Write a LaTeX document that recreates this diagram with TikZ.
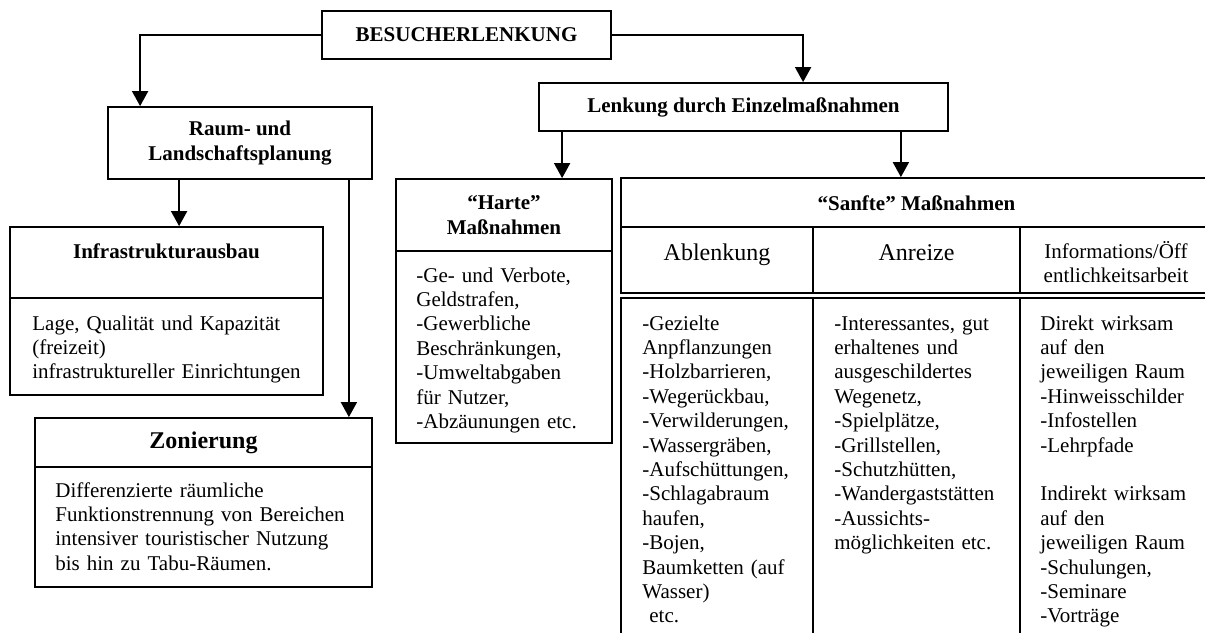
\documentclass[tikz,border=0pt]{standalone}
\usepackage{fontspec}
\setmainfont{Liberation Serif}
\usetikzlibrary{arrows.meta,fit}

\tikzset{
  cell/.style={draw, line width=0.9pt, inner sep=0pt},
  head/.style={font=\bfseries\fontsize{10.5}{12.2}\selectfont, align=center},
  bighead/.style={font=\bfseries\fontsize{12}{14}\selectfont},
  bigtxt/.style={font=\fontsize{12}{14}\selectfont, anchor=base},
  txt/.style={font=\fontsize{10.5}{12.2}\selectfont, align=left, anchor=base west, text width=150pt, inner sep=0pt},
  arr/.style={-{Triangle[length=7.5pt,width=8pt]}, line width=0.9pt}
}

\begin{document}
\begin{tikzpicture}[x=0.5pt, y=-0.5pt]
    \useasboundingbox (0, 0) rectangle (1205, 632);
    \clip (0, 0) rectangle (1205, 632);

    \node [cell, fit={(322, 11) (611, 59)}] (besucher) {};
    \node [head] at (466.5, 35) (besuchertxt) {BESUCHERLENKUNG};
    \node [cell, fit={(108, 107) (372, 179)}] (raum) {};
    \node [head] at (240, 143) (raumtxt) {Raum- und\\Landschaftsplanung};
    \node [cell, fit={(539, 83) (948, 131)}] (lenkung) {};
    \node [head] at (743.5, 107) (lenkungtxt) {Lenkung durch Einzelmaßnahmen};

    \node [cell, fit={(10, 227) (323, 298)}] (infratitle) {};
    \node [cell, fit={(10, 298) (323, 395)}] (infrabody) {};
    \node [head] at (166.5, 251) (infratxt) {Infrastrukturausbau};
    \node [txt] at (32, 330) (infralist) {Lage, Qualität und Kapazität\\(freizeit)\\infrastruktureller Einrichtungen};

    \node [cell, fit={(35, 418) (372, 467)}] (zontitle) {};
    \node [cell, fit={(35, 467) (372, 587)}] (zonbody) {};
    \node [bighead] at (203.5, 443) (zontxt) {Zonierung};
    \node [txt] at (55, 497) (zonlist) {Differenzierte räumliche\\Funktionstrennung von Bereichen\\intensiver touristischer Nutzung\\bis hin zu Tabu-Räumen.};

    \node [cell, fit={(396, 179) (612, 251)}] (hartetitle) {};
    \node [cell, fit={(396, 251) (612, 443)}] (hartebody) {};
    \node [head] at (504, 215) (hartetxt) {“Harte”\\Maßnahmen};
    \node [txt] at (416, 282) (hartelist) {-Ge- und Verbote,\\Geldstrafen,\\-Gewerbliche\\Beschränkungen,\\-Umweltabgaben\\für Nutzer,\\-Abzäunungen etc.};

    \node [cell, fit={(621, 178) (1212, 227)}] (sanfte) {};
    \node [head] at (916.5, 203) (sanftetxt) {“Sanfte” Maßnahmen};
    \node [cell, fit={(621, 227) (813, 293)}] (ablhead) {};
    \node [cell, fit={(813, 227) (1020, 293)}] (anrhead) {};
    \node [cell, fit={(1020, 227) (1212, 293)}] (infohead) {};
    \node [bigtxt] at (717, 260) (abltxt) {Ablenkung};
    \node [bigtxt] at (916.5, 260) (anrtxt) {Anreize};
    \node [align=center, font=\fontsize{10.5}{12.2}\selectfont] at (1116, 262) (infotxt) {Informations/Öff\\entlichkeitsarbeit};

    \node [cell, fit={(621, 298) (813, 660)}] (ablbody) {};
    \node [cell, fit={(813, 298) (1020, 660)}] (anrbody) {};
    \node [cell, fit={(1020, 298) (1212, 660)}] (infobody) {};

    \node [txt] at (642, 330) (abllist) {-Gezielte\\Anpflanzungen\\-Holzbarrieren,\\-Wegerückbau,\\-Verwilderungen,\\-Wassergräben,\\-Aufschüttungen,\\-Schlagabraum\\haufen,\\-Bojen,\\Baumketten (auf\\Wasser)\\\ etc.};
    \node [txt] at (834, 330) (anrlist) {-Interessantes, gut\\erhaltenes und\\ausgeschildertes\\Wegenetz,\\-Spielplätze,\\-Grillstellen,\\-Schutzhütten,\\-Wandergaststätten\\-Aussichts-\\möglichkeiten etc.};
    \node [txt] at (1040, 330) (infolist) {Direkt wirksam\\auf den\\jeweiligen Raum\\-Hinweisschilder\\-Infostellen\\-Lehrpfade\\[12.2pt]Indirekt wirksam\\auf den\\jeweiligen Raum\\-Schulungen,\\-Seminare\\-Vorträge};

    \coordinate (raumin) at ([xshift=16.5pt]raum.north west);
    \coordinate (lenkin) at ([xshift=132.5pt]lenkung.north west);
    \draw [arr] (besucher.west) -| (raumin);
    \draw [arr] (besucher.east) -| (lenkin);

    \coordinate (raumout1) at ([xshift=36pt]raum.south west);
    \coordinate (raumout2) at ([xshift=-12pt]raum.south east);
    \draw [arr] (raumout1) -- (raumout1 |- infratitle.north);
    \draw [arr] (raumout2) -- (raumout2 |- zontitle.north);

    \coordinate (lenkout1) at ([xshift=12pt]lenkung.south west);
    \coordinate (lenkout2) at ([xshift=-24pt]lenkung.south east);
    \draw [arr] (lenkout1) -- (lenkout1 |- hartetitle.north);
    \draw [arr] (lenkout2) -- (lenkout2 |- sanfte.north);
\end{tikzpicture}
\end{document}
